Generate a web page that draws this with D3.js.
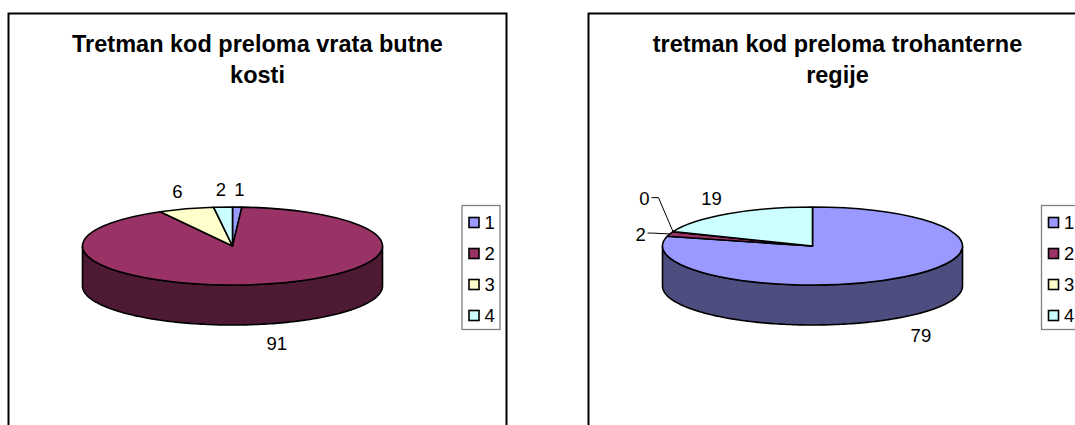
<!DOCTYPE html>
<html>
<head>
<meta charset="utf-8">
<script src="https://cdn.jsdelivr.net/npm/d3@7"></script>
<style>
  html, body { margin: 0; padding: 0; background: #fff; overflow: hidden; }
  svg { display: block; }
  text { font-family: "Liberation Sans", Arial, sans-serif; fill: #000; }
</style>
</head>
<body>
<svg width="1075" height="425"></svg>
<script>
var categories = ["1", "2", "3", "4"];
var colors = ["#9999ff", "#993366", "#ffffcc", "#ccffff"];
var sideColors = ["#4d4d80", "#4d1933", "#808066", "#668080"];

var leftTitle = ["Tretman kod preloma vrata butne", "kosti"];
var leftValues = [1, 91, 6, 2];
var leftLabels = ["1", "91", "6", "2"];

var rightTitle = ["tretman kod preloma trohanterne", "regije"];
var rightValues = [79, 2, 0, 19];
var rightLabels = ["79", "2", "0", "19"];

var svg = d3.select("svg");

var pie = d3.pie().sort(null).value(function(d) { return d; });

function drawChart(opts) {
  var g = svg.append("g").attr("transform", "translate(" + opts.x + ",13)");
  var cx = 224.5, cy = 233, rx = 150, ry = 39, depth = 40;

  g.append("rect")
    .attr("x", 0.5).attr("y", 0.5)
    .attr("width", 498).attr("height", 440)
    .attr("fill", "#fff").attr("stroke", "#000").attr("stroke-width", 2);

  g.selectAll(".title")
    .data(opts.title)
    .enter().append("text")
    .attr("class", "title")
    .attr("x", 249.5)
    .attr("y", function(d, i) { return 39 + i * 31; })
    .attr("text-anchor", "middle")
    .style("font-size", "23.5px")
    .style("font-weight", "bold")
    .text(function(d) { return d; });

  var arcs = pie(opts.values);

  var rimX = function(a) { return cx + rx * Math.sin(a); };
  var rimY = function(a) { return cy - ry * Math.cos(a); };

  // side wall, only the front half of the rim shows
  var side = d3.area()
    .x(function(a) { return rimX(a); })
    .y0(function(a) { return rimY(a); })
    .y1(function(a) { return rimY(a) + depth; });

  arcs.forEach(function(d, i) {
    var a0 = Math.max(d.startAngle, Math.PI / 2),
        a1 = Math.min(d.endAngle, Math.PI * 1.5);
    if (a1 <= a0) return;
    var steps = d3.range(a0, a1, 0.02).concat([a1]);
    g.append("path")
      .attr("d", side(steps))
      .attr("fill", sideColors[i])
      .attr("stroke", "#000")
      .attr("stroke-width", 1.6)
      .attr("stroke-linejoin", "round");
  });

  // top of the pie, a circle squashed into an ellipse
  var arc = d3.arc().innerRadius(0).outerRadius(rx);
  g.append("g")
    .attr("transform", "translate(" + cx + "," + cy + ") scale(1," + (ry / rx) + ")")
    .selectAll("path")
    .data(arcs)
    .enter().append("path")
    .attr("d", arc)
    .attr("fill", function(d, i) { return colors[i]; })
    .attr("stroke", "#000")
    .attr("stroke-width", 1.6)
    .attr("stroke-linejoin", "round")
    .attr("vector-effect", "non-scaling-stroke");

  // data labels sit on a wider ellipse round the pie
  arcs.forEach(function(d, i) {
    var mid = (d.startAngle + d.endAngle) / 2,
        front = Math.cos(mid) < 0,
        shift = opts.shifts[i],
        lx = cx + 185 * Math.sin(mid) + shift[0],
        ly = cy - 58 * Math.cos(mid) + (front ? depth : 0) + shift[1];

    g.append("text")
      .attr("x", lx).attr("y", ly)
      .attr("dy", "0.36em")
      .attr("text-anchor", "middle")
      .style("font-size", "18.5px")
      .text(opts.labels[i]);

    if (opts.elbows[i]) {
      var ex = lx + 7, elbow = ex + opts.elbows[i];
      g.append("path")
        .attr("d", d3.line()([[ex, ly - 1], [elbow, ly - 1], [rimX(mid), rimY(mid)]]))
        .attr("fill", "none")
        .attr("stroke", "#000")
        .attr("stroke-width", 1);
    }
  });

  // legend
  var legend = g.append("g").attr("transform", "translate(" + opts.legendX + ",192)");
  legend.append("rect")
    .attr("x", 0.5).attr("y", 0.5)
    .attr("width", 38).attr("height", 124)
    .attr("fill", "#fff").attr("stroke", "#808080").attr("stroke-width", 1.3);

  var y = d3.scalePoint().domain(categories).range([12, 105]);

  legend.selectAll(".swatch")
    .data(categories)
    .enter().append("rect")
    .attr("class", "swatch")
    .attr("x", 7.5)
    .attr("y", function(d) { return y(d) + 0.5; })
    .attr("width", 10).attr("height", 10)
    .attr("fill", function(d, i) { return colors[i]; })
    .attr("stroke", "#000")
    .attr("stroke-width", 1.6);

  legend.selectAll(".entry")
    .data(categories)
    .enter().append("text")
    .attr("class", "entry")
    .attr("x", 23)
    .attr("y", function(d) { return y(d) + 5.5; })
    .attr("dy", "0.36em")
    .style("font-size", "18.5px")
    .text(function(d) { return d; });
}

drawChart({
  x: 8, title: leftTitle, values: leftValues, labels: leftLabels,
  legendX: 453.5, elbows: {},
  shifts: [[1, 1], [4, 1], [2, 1], [0, 1]]
});

drawChart({
  x: 588, title: rightTitle, values: rightValues, labels: rightLabels,
  legendX: 453, elbows: { 1: 4, 2: 7 },
  shifts: [[-5, 4], [4, 6], [4, -26], [3, 0]]
});
</script>
</body>
</html>
